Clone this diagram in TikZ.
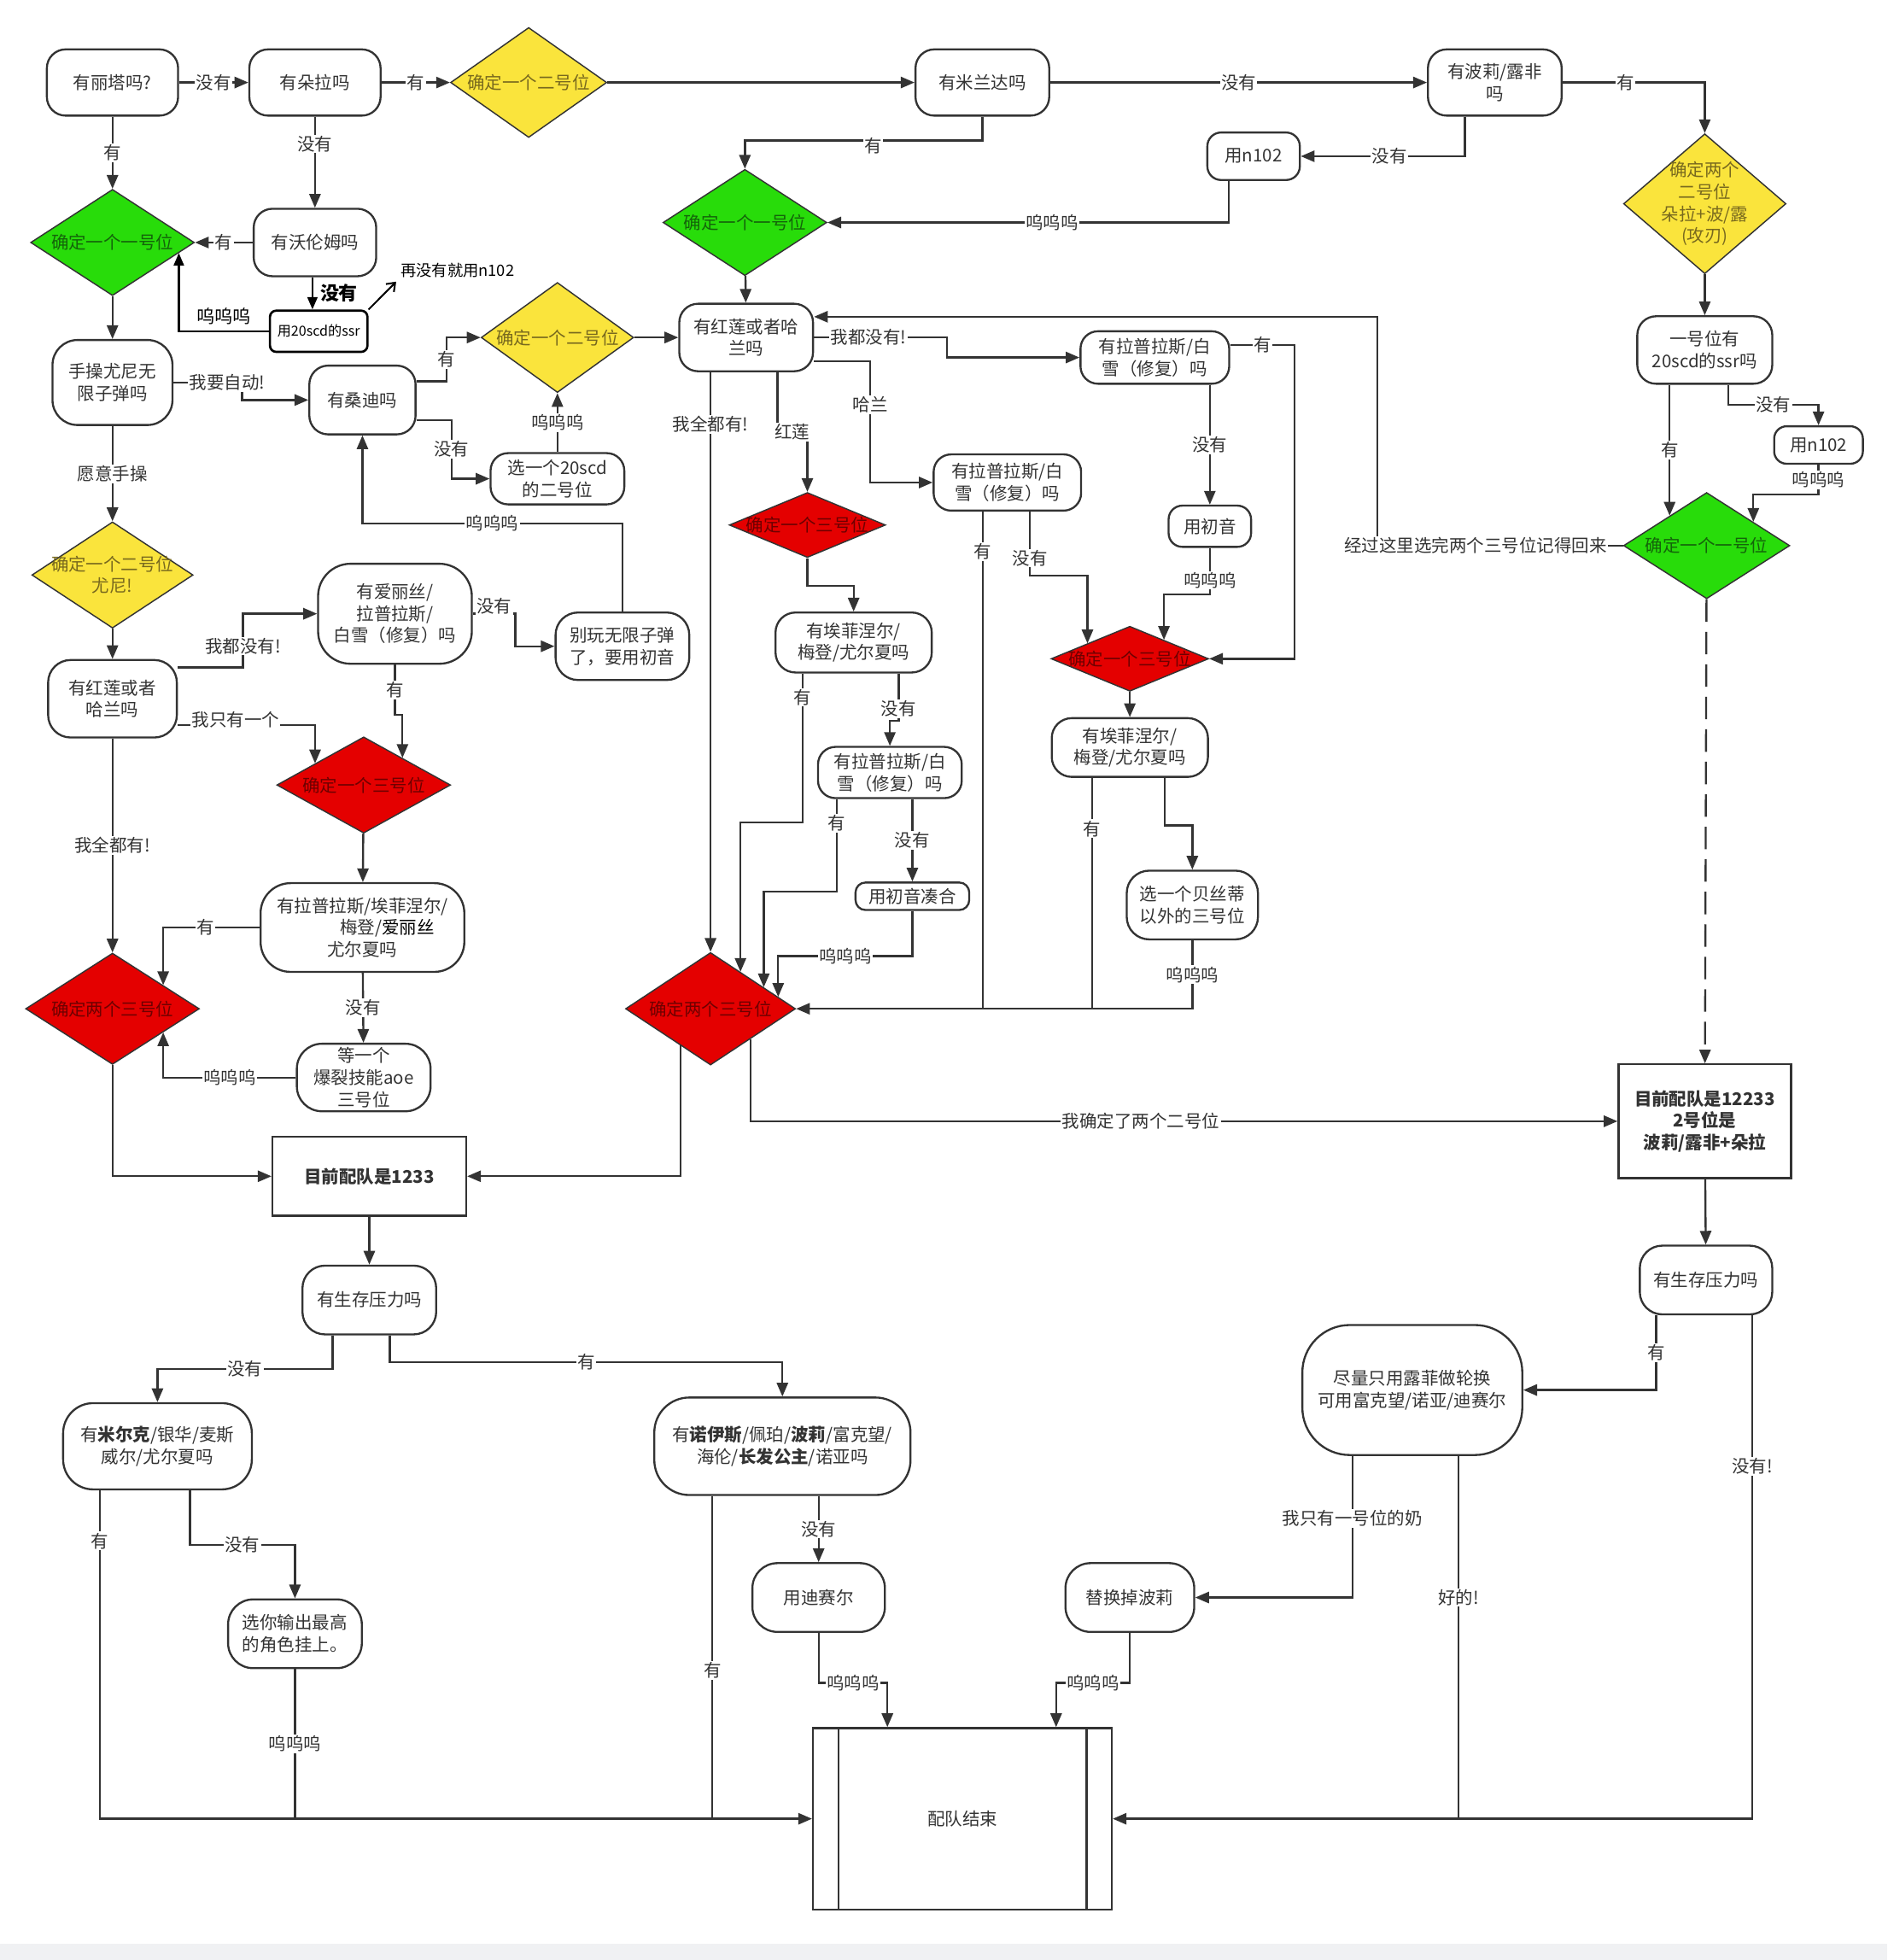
\documentclass[tikz,border=0pt]{standalone}
\usepackage{fontspec}
\usepackage{tikz}
\usetikzlibrary{shapes.geometric, arrows.meta}
\newfontfamily\cjk{Noto Sans CJK SC}
\definecolor{ink}{RGB}{51,51,51}
\definecolor{band}{RGB}{240,241,243}
\definecolor{yfill}{RGB}{250,228,60}
\definecolor{gfill}{RGB}{40,220,10}
\definecolor{rfill}{RGB}{228,0,0}
\definecolor{ytext}{RGB}{120,105,30}
\definecolor{gtext}{RGB}{20,100,10}
\definecolor{rtext}{RGB}{110,0,0}

\begin{document}
\begin{tikzpicture}[x=1pt, y=-1pt,
    every node/.style={font=\cjk\fontsize{14}{17.5}\selectfont, text=ink, align=center}, % all texts
    qbox/.style={draw=ink, line width=1.6pt, fill=white, rounded corners=15pt, inner sep=1pt}, % question boxes
    rbox/.style={draw=ink, line width=1.6pt, fill=white, inner sep=2pt, font=\cjk\bfseries\fontsize{14}{17.5}\selectfont},
    dia/.style={diamond, draw=ink, line width=1pt, inner sep=0pt},
    yd/.style={dia, fill=yfill, label={[text=ytext]center:#1}},
    gd/.style={dia, fill=gfill, label={[text=gtext]center:#1}},
    rd/.style={dia, fill=rfill, label={[text=rtext]center:#1}},
    arr/.style={draw=ink, line width=1.6pt, -{Triangle[length=11pt, width=9pt]}},
    barr/.style={draw=black, line width=1.8pt, -{Triangle[length=10pt, width=8pt]}},
    ln/.style={draw=ink, line width=1.6pt},
    lbl/.style={fill=white, inner sep=1pt}
    ]

    % page and margins
    \fill[white] (0,0) rectangle (1510,1568);
    \fill[band] (0,1555) rectangle (1510,1568);
    \useasboundingbox (0,0) rectangle (1510,1568);

    % top row
    \node[qbox, minimum width=105pt, minimum height=53pt] (litaQ) at (90,66) {有丽塔吗?};
    \node[qbox, minimum width=105pt, minimum height=53pt] (doraQ) at (252,66) {有朵拉吗};
    \node[yd=确定一个二号位, minimum width=125pt, minimum height=88pt] (d2a) at (423,66) {};
    \node[qbox, minimum width=107pt, minimum height=53pt] (mirQ) at (786,66) {有米兰达吗};
    \node[qbox, minimum width=107pt, minimum height=53pt] (boliQ) at (1196,66) {有波莉/露非\\吗};
    \node[qbox, rounded corners=11pt, minimum width=74pt, minimum height=38pt] (n102a) at (1003,125) {用n102};
    \node[gd=确定一个一号位, minimum width=131pt, minimum height=85pt] (g1b) at (596,178) {};
    \node[yd={确定两个\\二号位\\朵拉+波/露\\(攻刃)}, minimum width=130pt, minimum height=112pt] (d2two) at (1364,163) {};

    % left column
    \node[gd=确定一个一号位, minimum width=131pt, minimum height=85pt] (g1a) at (90,194) {};
    \node[qbox, minimum width=98pt, minimum height=54pt] (woQ) at (252,194) {有沃伦姆吗};
    \node[draw=black, line width=1.8pt, fill=white, rounded corners=5pt, minimum width=78pt, minimum height=33pt, inner sep=1pt, text=black, font=\cjk\fontsize{11}{13}\selectfont] (ssr20) at (255,265) {用20scd的ssr};
    \node[text=black, font=\cjk\fontsize{12.5}{15}\selectfont] (nomore) at (366,216) {再没有就用n102};
    \node[qbox, rounded corners=20pt, minimum width=96pt, minimum height=68pt] (shouQ) at (90,306) {手操尤尼无\\限子弹吗};
    \node[qbox, minimum width=85pt, minimum height=55pt] (sangQ) at (290,320) {有桑迪吗};
    \node[yd=确定一个二号位, minimum width=122pt, minimum height=88pt] (d2b) at (446,270) {};
    \node[qbox, rounded corners=14pt, minimum width=107pt, minimum height=41pt] (xuan20) at (446,383) {选一个20scd\\的二号位};
    \node[yd={确定一个二号位\\尤尼!}, minimum width=129pt, minimum height=85pt] (d2y) at (90,460) {};
    \node[qbox, rounded corners=18pt, minimum width=103pt, minimum height=62pt] (hongQ1) at (90,559) {有红莲或者\\哈兰吗};
    \node[qbox, rounded corners=26pt, minimum width=123pt, minimum height=80pt] (aiQ) at (316,491) {有爱丽丝/\\拉普拉斯/\\白雪（修复）吗};
    \node[qbox, rounded corners=18pt, minimum width=107pt, minimum height=54pt] (bieQ) at (498,517) {别玩无限子弹\\了，要用初音};
    \node[rd=确定一个三号位, minimum width=139pt, minimum height=77pt] (r3a) at (291,628) {};
    \node[qbox, rounded corners=24pt, minimum width=163pt, minimum height=71pt] (lapQ1) at (290,742) {有拉普拉斯/埃菲涅尔/\\\hspace*{40pt}梅登/{\color{black}爱丽丝}\\尤尔夏吗};
    \node[rd=确定两个三号位, minimum width=139pt, minimum height=89pt] (r2a) at (90,807) {};
    \node[qbox, rounded corners=20pt, minimum width=107pt, minimum height=54pt] (dengQ) at (291,862) {等一个\\爆裂技能aoe\\三号位};

    % middle column
    \node[qbox, minimum width=107pt, minimum height=54pt] (hongQ2) at (597,270) {有红莲或者哈\\兰吗};
    \node[qbox, rounded corners=14pt, minimum width=119pt, minimum height=42pt] (lapQ2) at (924,286) {有拉普拉斯/白\\雪（修复）吗};
    \node[qbox, rounded corners=14pt, minimum width=118pt, minimum height=45pt] (lapQ3) at (806,386) {有拉普拉斯/白\\雪（修复）吗};
    \node[qbox, rounded corners=11pt, minimum width=66pt, minimum height=33pt] (chuyin) at (968,421) {用初音};
    \node[rd=确定一个三号位, minimum width=125pt, minimum height=52pt] (r3b) at (646,420) {};
    \node[rd=确定一个三号位, minimum width=126pt, minimum height=52pt] (r3c) at (904,527) {};
    \node[qbox, rounded corners=16pt, minimum width=125pt, minimum height=48pt] (aifQ2) at (683,514) {有埃菲涅尔/\\梅登/尤尔夏吗};
    \node[qbox, rounded corners=16pt, minimum width=125pt, minimum height=47pt] (aifQ3) at (904,598) {有埃菲涅尔/\\梅登/尤尔夏吗};
    \node[qbox, rounded corners=14pt, minimum width=115pt, minimum height=41pt] (lapQ4) at (712,618) {有拉普拉斯/白\\雪（修复）吗};
    \node[qbox, rounded corners=8pt, minimum width=91pt, minimum height=22pt] (chuyinC) at (730,717) {用初音凑合};
    \node[qbox, rounded corners=18pt, minimum width=105pt, minimum height=55pt] (xuanB) at (954,724) {选一个贝丝蒂\\以外的三号位};
    \node[rd=确定两个三号位, minimum width=136pt, minimum height=90pt] (r2b) at (568.5,807) {};

    % right column
    \node[qbox, minimum width=108pt, minimum height=54pt] (yihaoQ) at (1364,280) {一号位有\\20scd的ssr吗};
    \node[qbox, rounded corners=10pt, minimum width=71pt, minimum height=30pt] (n102b) at (1455,356) {用n102};
    \node[gd=确定一个一号位, minimum width=133pt, minimum height=85pt] (g1c) at (1365.5,436.5) {};
    \node[rbox, minimum width=138pt, minimum height=91pt] (mu2) at (1364,897) {目前配队是12233\\2号位是\\波莉/露非+朵拉};
    \node[qbox, rounded corners=18pt, minimum width=106pt, minimum height=55pt] (shengQ2) at (1365,1024) {有生存压力吗};
    \node[qbox, rounded corners=38pt, minimum width=176pt, minimum height=104pt] (jinQ) at (1130,1112) {尽量只用露菲做轮换\\可用富克望/诺亚/迪赛尔};

    % bottom part
    \node[rbox, minimum width=155pt, minimum height=63pt] (mubox1) at (295.5,941) {目前配队是1233};
    \node[qbox, rounded corners=18pt, minimum width=107pt, minimum height=55pt] (shengQ1) at (295.5,1040) {有生存压力吗};
    \node[qbox, rounded corners=24pt, minimum width=151pt, minimum height=69pt] (miQ) at (126,1157) {有\textbf{米尔克}/银华/麦斯\\威尔/尤尔夏吗};
    \node[qbox, rounded corners=28pt, minimum width=205pt, minimum height=78pt] (nuoQ) at (626,1157) {有\textbf{诺伊斯}/佩珀/\textbf{波莉}/富克望/\\海伦/\textbf{长发公主}/诺亚吗};
    \node[qbox, rounded corners=20pt, minimum width=107pt, minimum height=55pt] (xuanN) at (236,1307) {选你输出最高\\的角色挂上。};
    \node[qbox, rounded corners=20pt, minimum width=106pt, minimum height=55pt] (diQ) at (655,1278) {用迪赛尔};
    \node[qbox, rounded corners=20pt, minimum width=103pt, minimum height=55pt] (tihuan) at (904,1278) {替换掉波莉};
    \node[rbox, font=\cjk\fontsize{14}{17.5}\selectfont, minimum width=239pt, minimum height=145pt] (endb) at (770,1455) {配队结束};
    \draw[ln] ([xshift=21pt]endb.north west) -- ([xshift=21pt]endb.south west);
    \draw[ln] ([xshift=-21pt]endb.north east) -- ([xshift=-21pt]endb.south east);

    % connectors, top row
    \draw[arr] (litaQ) -- node[lbl]{没有} (doraQ);
    \draw[arr] (doraQ) -- node[lbl]{有} (d2a);
    \draw[arr] (d2a) -- (mirQ);
    \draw[arr] (mirQ) -- node[lbl]{没有} (boliQ);
    \draw[arr] (boliQ) -| node[lbl, pos=0.22]{有} (d2two);
    \draw[arr] (boliQ.south -| 1172,0) |- node[lbl, pos=0.73]{没有} (n102a);
    \draw[arr] (n102a.south -| 983,0) |- node[lbl, pos=0.72]{呜呜呜} (g1b);
    \draw[arr] (mirQ.south) -- ++(0,19) -| node[lbl, pos=0.23, yshift=-4pt]{有} (g1b);
    \draw[arr] (g1b) -- (hongQ2);

    % connectors, left column
    \draw[arr] (litaQ) -- node[lbl]{有} (g1a);
    \draw[arr] (doraQ) -- node[lbl, pos=0.3]{没有} (woQ);
    \draw[arr] (woQ) -- node[lbl]{有} (g1a);
    \draw[barr] (woQ.south -| 250,0) -- node[right=2pt, text=black, font=\cjk\bfseries\fontsize{15}{17}\selectfont]{没有} (ssr20.north -| 250,0);
    \draw[barr] (ssr20.west) -| node[pos=0.25, above=1pt, text=black, font=\cjk\fontsize{14.5}{17}\selectfont]{呜呜呜} (g1a.-9);
    \draw[black, line width=1.4pt, -{Straight Barb[length=6pt, width=9pt]}] (ssr20.north east) -- (nomore.south west);
    \draw[arr] (g1a) -- (shouQ);
    \draw[arr] (shouQ.east) -- node[lbl, pos=0.78]{我要自动!} ++(55,0) |- (sangQ);
    \draw[arr] (sangQ.east |- 0,305) -- ++(24,0) |- node[lbl, pos=0.25]{有} (d2b);
    \draw[arr] (sangQ.east |- 0,336) -- ++(28,0) |- node[lbl, pos=0.25]{没有} (xuan20);
    \draw[arr] (xuan20) -- node[lbl]{呜呜呜} (d2b);
    \draw[arr] (d2b) -- (hongQ2);
    \draw[arr] (shouQ) -- node[lbl]{愿意手操} (d2y);
    \draw[arr] (d2y) -- (hongQ1);
    \draw[arr] (hongQ1.east |- 0,534) -- ++(52,0) |- node[lbl, pos=0.2]{我都没有!} (aiQ);
    \draw[arr] (hongQ1.east |- 0,580) -| node[lbl, pos=0.21, yshift=4pt]{我只有一个} (r3a.156);
    \draw[arr] (aiQ.south) -- node[lbl]{有} ++(0,40) -| (r3a.35);
    \draw[arr] (aiQ.east) -- node[lbl, yshift=6pt]{没有} ++(34,0) |- (bieQ);
    \draw[arr] (bieQ.north) -- ++(0,-70.5) -| node[lbl, pos=0.25]{呜呜呜} (sangQ.south);
    \draw[arr] (hongQ1) -- node[lbl]{我全都有!} (r2a);
    \draw[arr] (r3a) -- (lapQ1);
    \draw[arr] (lapQ1.west) -| node[lbl, pos=0.28]{有} (r2a.25);
    \draw[arr] (lapQ1) -- node[lbl]{没有} (dengQ);
    \draw[arr] (dengQ.west) -| node[lbl, pos=0.25]{呜呜呜} (r2a.-25);
    \draw[arr] (r2a.south) |- (mubox1.west);

    % connectors, middle column
    \draw[arr] (hongQ2.east) -- node[lbl, pos=0.41]{我都没有!} ++(106.5,0) |- (lapQ2);
    \draw[arr] (lapQ2.east |- 0,276) -- node[lbl]{有} ++(51.5,0) |- (r3c);
    \draw[arr] (chuyin.north |- lapQ2.south) -- node[lbl]{没有} (chuyin);
    \draw[arr] (chuyin.south) -- node[lbl, pos=0.7]{呜呜呜} ++(0,37) -| (r3c.29);
    \draw[arr] (hongQ2.south -| 622,0) -- ++(0,48) -| node[lbl, pos=0.25]{红莲} (r3b);
    \draw[arr] (hongQ2.east |- 0,289) -- ++(45,0) |- node[lbl, pos=0.18]{哈兰} (lapQ3);
    \draw[arr] (hongQ2.south -| 568.5,0) -- node[lbl, pos=0.09]{我全都有!} (r2b.north);
    \draw[ln] (lapQ3.south -| 786.5,0) -- node[lbl, pos=0.08]{有} (786.5,0 |- r2b.east);
    \draw[arr] (lapQ3.south -| 824,0) -- node[lbl, pos=0.73]{没有} ++(0,51) -| (r3c.160);
    \draw[arr] (r3b.south) -- ++(0,22) -| (aifQ2);
    \draw[arr] (aifQ2.south -| 642,0) -- node[lbl, pos=0.16]{有} ++(0,119) -| (r2b.51);
    \draw[arr] (aifQ2.south -| 719,0) -- node[lbl, pos=0.74]{没有} ++(0,38) -| (lapQ4);
    \draw[arr] (lapQ4.south -| 669.6,0) -- node[lbl, pos=0.26]{有} ++(0,74) -| (r2b.22);
    \draw[arr] (chuyinC.north |- lapQ4.south) -- node[lbl]{没有} (chuyinC);
    \draw[arr] (chuyinC.south) -- ++(0,36) -| node[lbl, pos=0.25]{呜呜呜} (r2b.10);
    \draw[arr] (r3c) -- (aifQ3);
    \draw[ln] (aifQ3.south -| 873.7,0) -- node[lbl, pos=0.22]{有} (873.7,0 |- r2b.east);
    \draw[arr] (aifQ3.south -| 932,0) -- ++(0,38) -| (xuanB);
    \draw[arr] (xuanB.south) |- node[lbl, pos=0.25]{呜呜呜} (r2b.east);
    \draw[arr] (r2b.231) |- (mubox1.east);
    \draw[arr] (r2b.-37) |- node[lbl, pos=0.725]{我确定了两个二号位} (mu2.west);

    % connectors, right column
    \draw[arr] (d2two) -- (yihaoQ);
    \draw[arr] (yihaoQ.south -| g1c.141) -- node[lbl]{有} (g1c.141);
    \draw[arr] (yihaoQ.south -| 1383,0) -- ++(0,16) -| node[lbl, pos=0.25]{没有} (n102b);
    \draw[arr] (n102b.south) -- node[lbl]{呜呜呜} ++(0,24) -| (g1c.27);
    \draw[arr] (g1c.west) -- node[lbl, pos=0.6]{经过这里选完两个三号位记得回来} ++(-196.5,0) |- (hongQ2.17);
    \draw[arr, dash pattern=on 18pt off 8pt] (g1c) -- (mu2);
    \draw[arr] (mu2) -- (shengQ2);
    \draw[arr] (shengQ2.south -| 1325,0) |- node[lbl, pos=0.25]{有} (jinQ);
    \draw[arr] (shengQ2.south -| 1402,0) |- node[lbl, pos=0.15]{没有!} (endb.east);
    \draw[arr] (jinQ.south -| 1082,0) |- node[lbl, pos=0.22]{我只有一号位的奶} (tihuan);
    \draw[ln] (jinQ.south -| 1167,0) -- node[lbl, pos=0.39]{好的!} (1167,0 |- endb.east);

    % connectors, bottom part
    \draw[arr] (mubox1) -- (shengQ1);
    \draw[arr] (shengQ1.south -| 266,0) -- ++(0,27) -| node[lbl, pos=0.25]{没有} (miQ);
    \draw[arr] (shengQ1.south -| 312,0) -- ++(0,21.5) -| node[lbl, pos=0.25]{有} (nuoQ);
    \draw[arr] (miQ.south -| 80,0) |- node[lbl, pos=0.077]{有} (endb.west);
    \draw[arr] (miQ.south -| 152,0) -- ++(0,43.5) -| node[lbl, pos=0.25]{没有} (xuanN);
    \draw[ln] (xuanN.south) -- node[lbl]{呜呜呜} (xuanN.south |- endb.west);
    \draw[ln] (nuoQ.south -| 570,0) -- node[lbl, pos=0.54]{有} (570,0 |- endb.west);
    \draw[arr] (diQ.north |- nuoQ.south) -- node[lbl]{没有} (diQ);
    \draw[arr] (diQ.south) -- ++(0,40) -| node[lbl, pos=0.25]{呜呜呜} (endb.north -| 710,0);
    \draw[arr] (tihuan.south) -- ++(0,40) -| node[lbl, pos=0.25]{呜呜呜} (endb.north -| 845,0);

\end{tikzpicture}
\end{document}
